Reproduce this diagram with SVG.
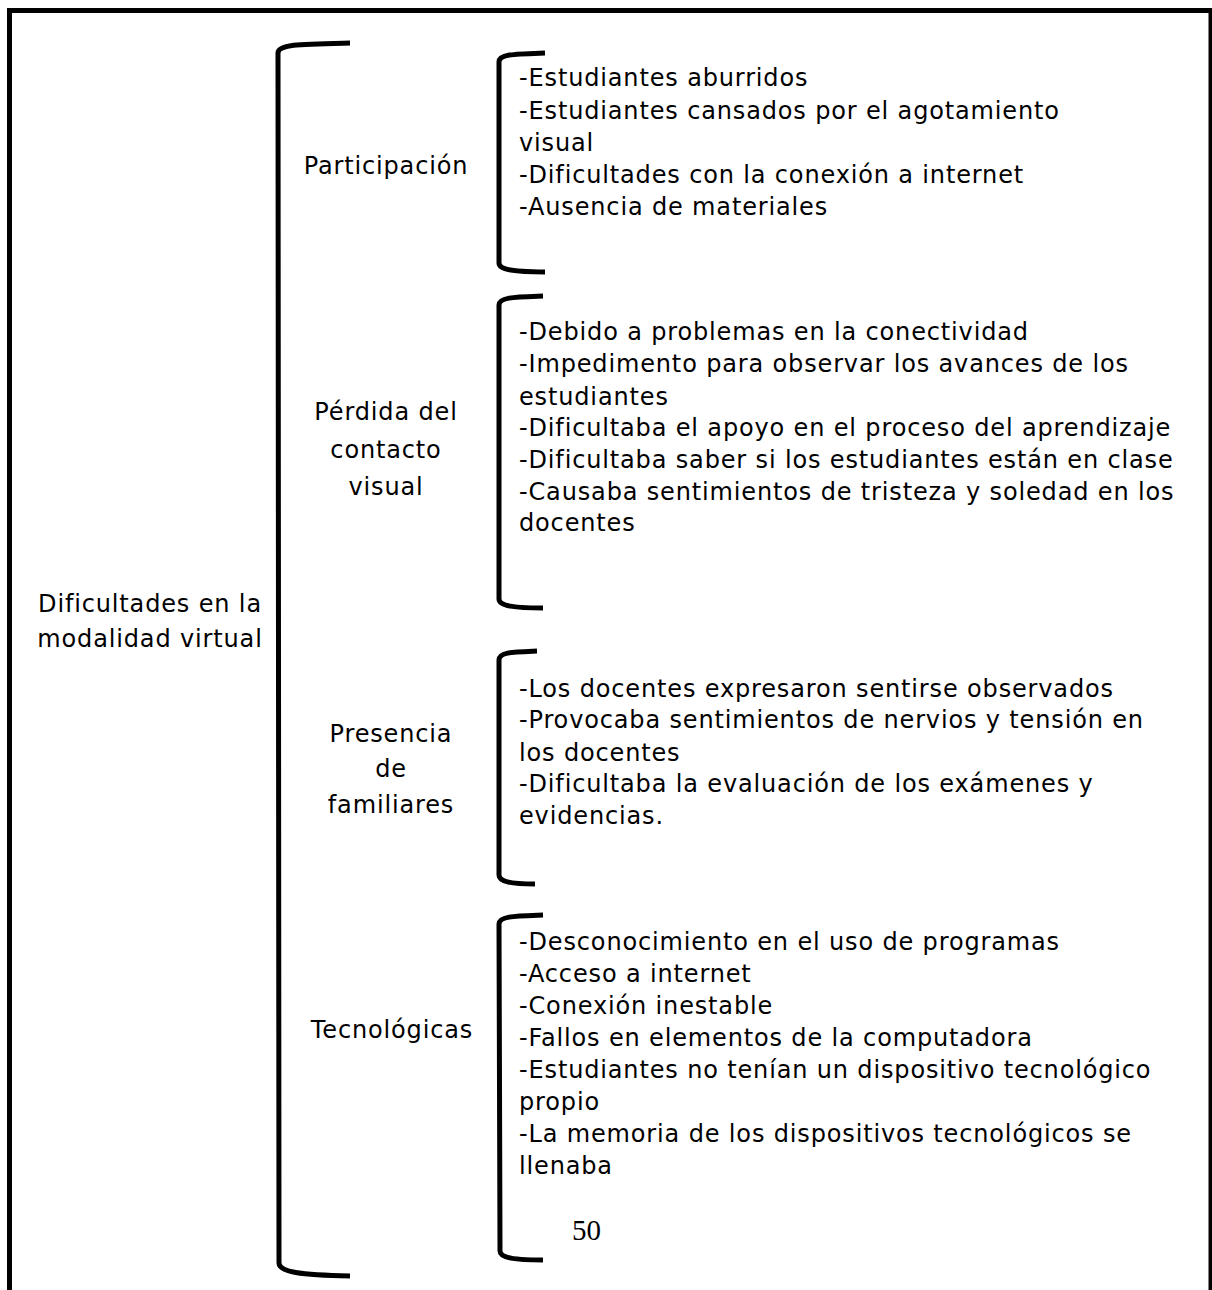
<svg xmlns="http://www.w3.org/2000/svg" width="1212" height="1290" viewBox="0 0 1212 1290">
<style>
.t{font-family:"DejaVu Sans","Liberation Sans",sans-serif;font-size:24px;letter-spacing:0.85px;fill:#000}
.c{text-anchor:middle}
.br{fill:none;stroke:#000;stroke-width:5;stroke-linecap:butt}
.pg{font-family:"Liberation Serif",serif;font-size:29px;fill:#000}
</style>
<rect x="0" y="0" width="1212" height="1290" fill="#fff"/>
<rect x="9.5" y="10.5" width="1201.5" height="1300" fill="none" stroke="#000" stroke-width="5"/>
<g id="connectors">
<path class="br" d="M350,43 C300,44 278,44 278,53 L279,1263 C279,1272 300,1275 350,1276"/>
<path class="br" d="M545,53 C515,54 499,54 499,62 L499,263 C499,270 515,272 545,272"/>
<path class="br" d="M543,296 C515,297 499,297 499,305 L499,599 C499,606 515,608 543,608"/>
<path class="br" d="M537,651 C512,652 499,652 499,660 L499,875 C499,882 512,884 535,884"/>
<path class="br" d="M543,915 C515,916 499,916 499,924 L500,1251 C500,1258 515,1260 543,1260"/>
</g>
<g id="root">
<text class="t c" x="150" y="612">Dificultades en la</text>
<text class="t c" x="150" y="647">modalidad virtual</text>
</g>
<g id="participacion">
<text class="t c" x="386" y="174">Participación</text>
</g>
<g id="participacion-items">
<text class="t" x="519" y="86">-Estudiantes aburridos</text>
<text class="t" x="519" y="119">-Estudiantes cansados por el agotamiento</text>
<text class="t" x="519" y="151">visual</text>
<text class="t" x="519" y="183">-Dificultades con la conexión a internet</text>
<text class="t" x="519" y="215">-Ausencia de materiales</text>
</g>
<g id="perdida">
<text class="t c" x="386" y="420">Pérdida del</text>
<text class="t c" x="386" y="458">contacto</text>
<text class="t c" x="386" y="495">visual</text>
</g>
<g id="perdida-items">
<text class="t" x="519" y="340">-Debido a problemas en la conectividad</text>
<text class="t" x="519" y="372">-Impedimento para observar los avances de los</text>
<text class="t" x="519" y="405">estudiantes</text>
<text class="t" x="519" y="436">-Dificultaba el apoyo en el proceso del aprendizaje</text>
<text class="t" x="519" y="468">-Dificultaba saber si los estudiantes están en clase</text>
<text class="t" x="519" y="500">-Causaba sentimientos de tristeza y soledad en los</text>
<text class="t" x="519" y="531">docentes</text>
</g>
<g id="presencia">
<text class="t c" x="391" y="742">Presencia</text>
<text class="t c" x="391" y="777">de</text>
<text class="t c" x="391" y="813">familiares</text>
</g>
<g id="presencia-items">
<text class="t" x="519" y="697">-Los docentes expresaron sentirse observados</text>
<text class="t" x="519" y="728">-Provocaba sentimientos de nervios y tensión en</text>
<text class="t" x="519" y="761">los docentes</text>
<text class="t" x="519" y="792">-Dificultaba la evaluación de los exámenes y</text>
<text class="t" x="519" y="824">evidencias.</text>
</g>
<g id="tecnologicas">
<text class="t c" x="392" y="1038">Tecnológicas</text>
</g>
<g id="tecnologicas-items">
<text class="t" x="519" y="950">-Desconocimiento en el uso de programas</text>
<text class="t" x="519" y="982">-Acceso a internet</text>
<text class="t" x="519" y="1014">-Conexión inestable</text>
<text class="t" x="519" y="1046">-Fallos en elementos de la computadora</text>
<text class="t" x="519" y="1078">-Estudiantes no tenían un dispositivo tecnológico</text>
<text class="t" x="519" y="1110">propio</text>
<text class="t" x="519" y="1142">-La memoria de los dispositivos tecnológicos se</text>
<text class="t" x="519" y="1174">llenaba</text>
</g>
<text class="pg" x="572" y="1240">50</text>
</svg>
